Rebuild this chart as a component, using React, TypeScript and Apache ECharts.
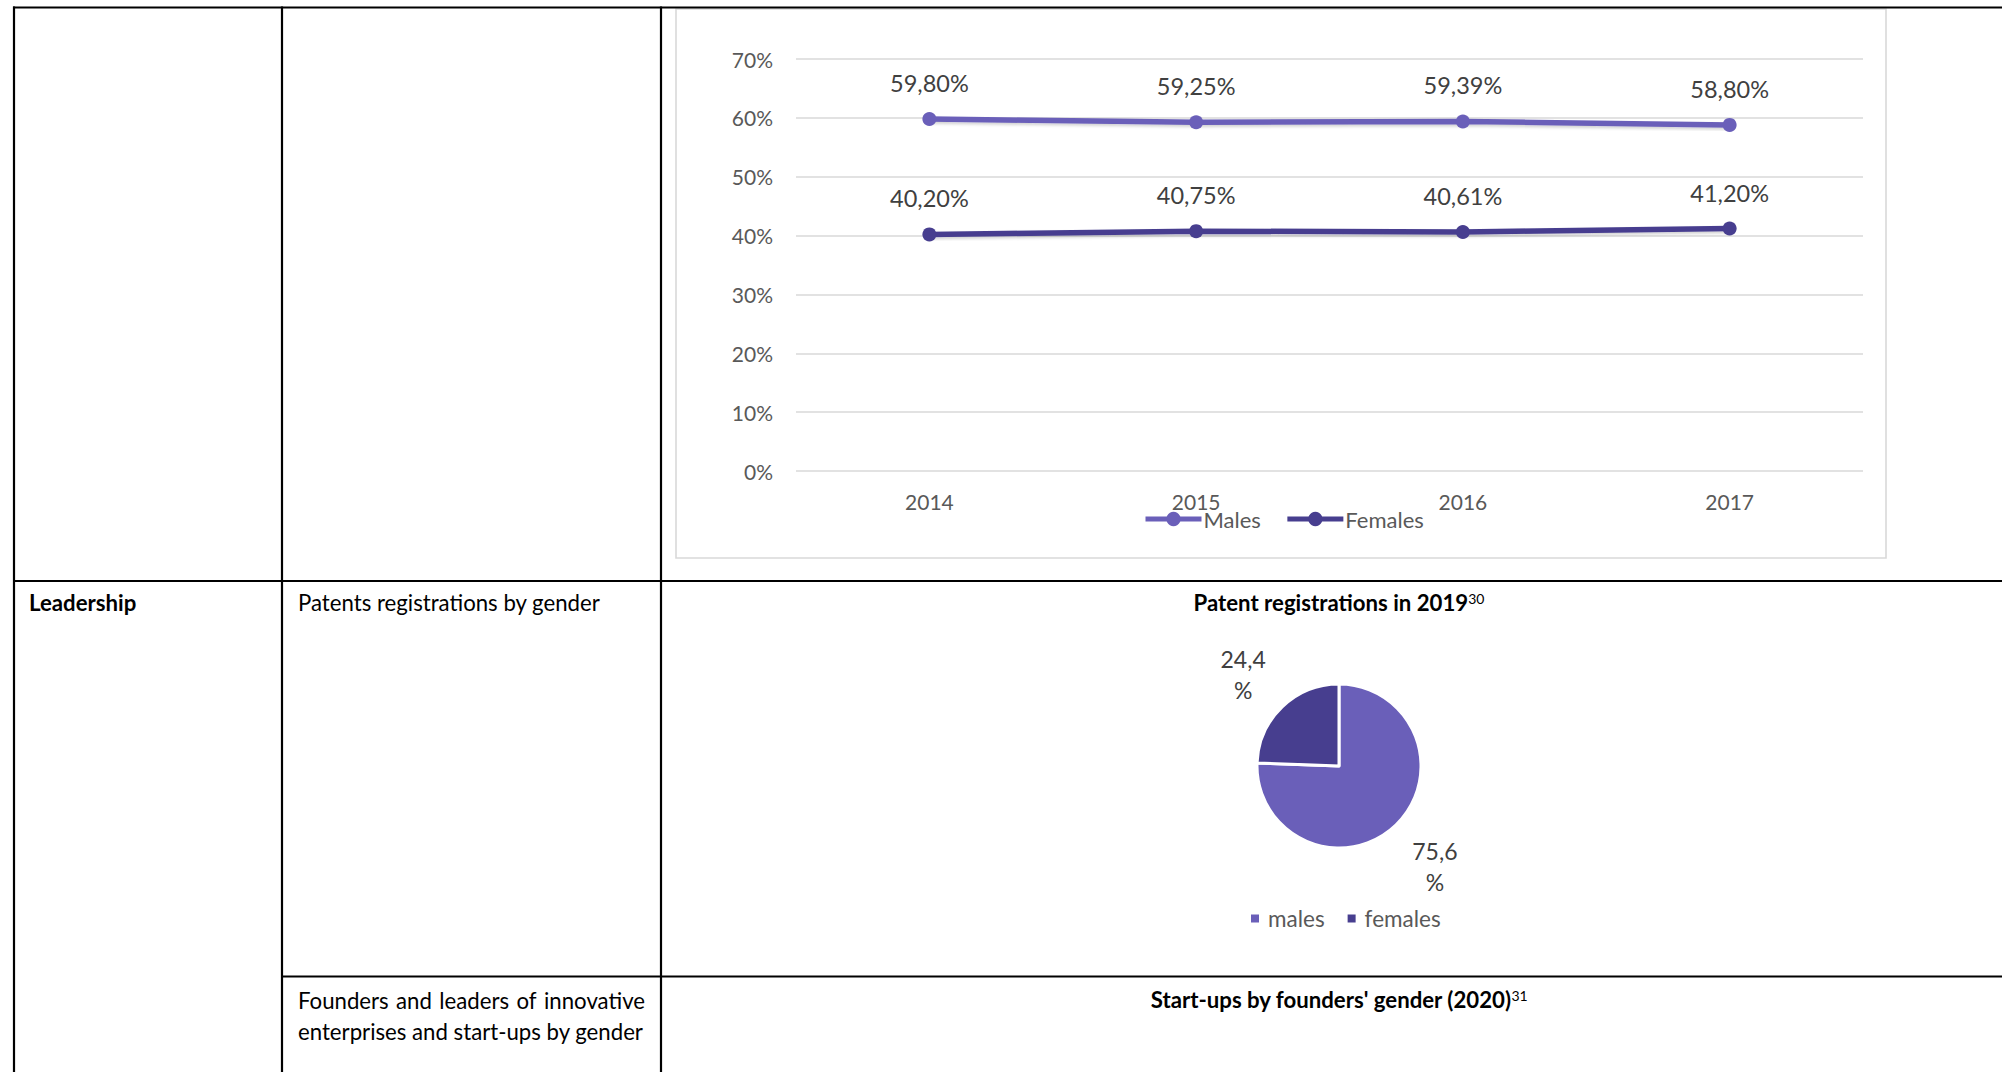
import React, { useEffect, useRef } from "react";
import * as echarts from "echarts";

// ---- data ----
const years = ["2014", "2015", "2016", "2017"];
const malesShare = [59.8, 59.25, 59.39, 58.8];
const femalesShare = [40.2, 40.75, 40.61, 41.2];
const yMin = 0;
const yMax = 70;
const yStep = 10;

const pieNames = ["males", "females"];
const pieValues = [75.6, 24.4];

const lineTitleNames = ["Males", "Females"];

const MALE = "#6A5FB9";
const FEMALE = "#473E8F";
const FONT = "Lato";
const GREY_TEXT = "#595959";
const DARK_TEXT = "#404040";
const DOC_SIZE = 22.2;

const fmtPct2 = (v: number) => v.toFixed(2).replace(".", ",") + "%";
const fmtPie = (v: number) => v.toFixed(1).replace(".", ",") + "\n%";

function justifiedWords(line: string, x0: number, x1: number, y: number) {
  const words = line.split(" ");
  const cv = document.createElement("canvas");
  const ctx = cv.getContext("2d")!;
  ctx.font = `${DOC_SIZE}px ${FONT}`;
  const widths = words.map((w) => ctx.measureText(w).width);
  const total = widths.reduce((a, b) => a + b, 0);
  const gap = (x1 - x0 - total) / (words.length - 1);
  let x = x0;
  return words.map((w, i) => {
    const el = {
      type: "text",
      x,
      y,
      z: 50,
      style: {
        text: w,
        fill: "#000",
        font: `${DOC_SIZE}px ${FONT}`,
        align: "left",
        verticalAlign: "middle",
      },
    };
    x += widths[i] + gap;
    return el;
  });
}

export default function App() {
  const ref = useRef<HTMLDivElement>(null);

  useEffect(() => {
    if (!ref.current) return;
    const chart = echarts.init(ref.current, undefined, { renderer: "svg" });

    const hLine = (x1: number, x2: number, y: number, w = 2.2) => ({
      type: "line",
      shape: { x1, y1: y, x2, y2: y },
      style: { stroke: "#000", lineWidth: w },
      z: 50,
    });
    const vLine = (x: number, y1: number, y2: number, w = 2.2) => ({
      type: "line",
      shape: { x1: x, y1, x2: x, y2 },
      style: { stroke: "#000", lineWidth: w },
      z: 50,
    });
    const txt = (text: string, x: number, y: number, opts: any = {}) => ({
      type: "text",
      x,
      y,
      z: 50,
      style: {
        text,
        fill: "#000",
        font: `${opts.bold ? "bold " : ""}${DOC_SIZE}px ${FONT}`,
        align: opts.align || "left",
        verticalAlign: "middle",
      },
    });
    const titleRich = {
      t: { fontFamily: FONT, fontWeight: "bold", fontSize: DOC_SIZE, color: "#000" },
      s: { fontFamily: FONT, fontSize: 14, verticalAlign: "top", color: "#000" },
    };

    const option: any = {
      animation: false,
      backgroundColor: "#fff",
      textStyle: { fontFamily: FONT },
      graphic: [
        {
          type: "rect",
          shape: { x: 676, y: 9, width: 1210, height: 549 },
          style: { fill: "none", stroke: "#D9D9D9", lineWidth: 1.6 },
          z: 40,
        },
        hLine(13, 2002, 7.5),
        vLine(14, 6.5, 1072),
        vLine(282, 6.5, 1072),
        vLine(661, 6.5, 1072),
        hLine(13, 2002, 581),
        hLine(282, 2002, 976.5),
        txt("Leadership", 29, 602.5, { bold: true }),
        txt("Patents registrations by gender", 298, 602.5),
        ...justifiedWords("Founders and leaders of innovative", 298, 645, 1000.5),
        txt("enterprises and start-ups by gender", 298, 1031),
        {
          type: "text",
          x: 1339,
          y: 602.5,
          z: 50,
          style: {
            text: "{t|Patent registrations in 2019}{s|30}",
            align: "center",
            verticalAlign: "middle",
            rich: titleRich,
          },
        },
        {
          type: "text",
          x: 1339,
          y: 999.5,
          z: 50,
          style: {
            text: "{t|Start-ups by founders' gender (2020)}{s|31}",
            align: "center",
            verticalAlign: "middle",
            rich: titleRich,
          },
        },
      ],
      legend: [
        {
          data: lineTitleNames,
          left: 1143,
          top: 508,
          padding: 0,
          itemWidth: 56,
          itemHeight: 18,
          itemGap: 24,
          lineStyle: { width: 5 },
          textStyle: {
            fontFamily: FONT,
            fontSize: 22,
            color: GREY_TEXT,
            padding: [0, 0, 0, -3],
          },
          selectedMode: false,
        },
        {
          data: pieNames,
          left: 1249,
          top: 907,
          padding: 0,
          icon: "rect",
          itemWidth: 10,
          itemHeight: 10,
          itemGap: 21,
          textStyle: {
            fontFamily: FONT,
            fontSize: 22.5,
            color: GREY_TEXT,
            padding: [0, 0, 0, 3],
          },
          selectedMode: false,
        },
      ],
      grid: {
        left: 796,
        right: 2002 - 1863,
        top: 59,
        bottom: 1072 - 471,
        containLabel: false,
      },
      xAxis: {
        type: "category",
        data: years,
        boundaryGap: true,
        axisLine: { show: false },
        axisTick: { show: false },
        axisLabel: {
          margin: 20,
          fontFamily: FONT,
          fontSize: 21,
          color: GREY_TEXT,
        },
      },
      yAxis: {
        type: "value",
        min: yMin,
        max: yMax,
        interval: yStep,
        axisLine: { show: false },
        axisTick: { show: false },
        axisLabel: {
          margin: 23,
          fontFamily: FONT,
          fontSize: 21,
          color: GREY_TEXT,
          formatter: (v: number) => `${v}%`,
        },
        splitLine: { lineStyle: { color: "#D9D9D9", width: 1.6 } },
      },
      series: [
        {
          name: "Males",
          type: "line",
          data: malesShare,
          symbol: "circle",
          symbolSize: 14,
          itemStyle: { color: MALE },
          lineStyle: {
            color: MALE,
            width: 5.5,
            shadowColor: "rgba(0,0,0,0.18)",
            shadowBlur: 3,
            shadowOffsetY: 2,
          },
          label: {
            show: true,
            position: "top",
            distance: 17,
            fontFamily: FONT,
            fontSize: 23.5,
            color: DARK_TEXT,
            formatter: (p: any) => fmtPct2(p.value),
          },
        },
        {
          name: "Females",
          type: "line",
          data: femalesShare,
          symbol: "circle",
          symbolSize: 14,
          itemStyle: { color: FEMALE },
          lineStyle: {
            color: FEMALE,
            width: 5.5,
            shadowColor: "rgba(0,0,0,0.18)",
            shadowBlur: 3,
            shadowOffsetY: 2,
          },
          label: {
            show: true,
            position: "top",
            distance: 17,
            fontFamily: FONT,
            fontSize: 23.5,
            color: DARK_TEXT,
            formatter: (p: any) => fmtPct2(p.value),
          },
        },
        {
          name: "Patents",
          type: "pie",
          center: [1339, 766],
          radius: 82,
          startAngle: 90,
          clockwise: true,
          avoidLabelOverlap: false,
          itemStyle: { borderColor: "#fff", borderWidth: 3 },
          data: pieNames.map((n, i) => ({
            name: n,
            value: pieValues[i],
            itemStyle: { color: i === 0 ? MALE : FEMALE },
          })),
          label: {
            show: true,
            position: "outside",
            fontFamily: FONT,
            fontSize: 23,
            lineHeight: 31,
            color: DARK_TEXT,
            distanceToLabelLine: 5,
            formatter: (p: any) => fmtPie(p.value),
          },
          labelLine: { show: false, length: 49, length2: 0 },
          labelLayout: (p: any) => ({
            align: "center",
            dy: p.dataIndex === 0 ? 6 : 3,
          }),
          emphasis: { disabled: true },
        },
      ],
    };

    chart.setOption(option);
    return () => chart.dispose();
  }, []);

  return (
    <div
      ref={ref}
      style={{
        position: "fixed",
        left: 0,
        top: 0,
        width: 2002,
        height: 1072,
        background: "#fff",
      }}
    />
  );
}
